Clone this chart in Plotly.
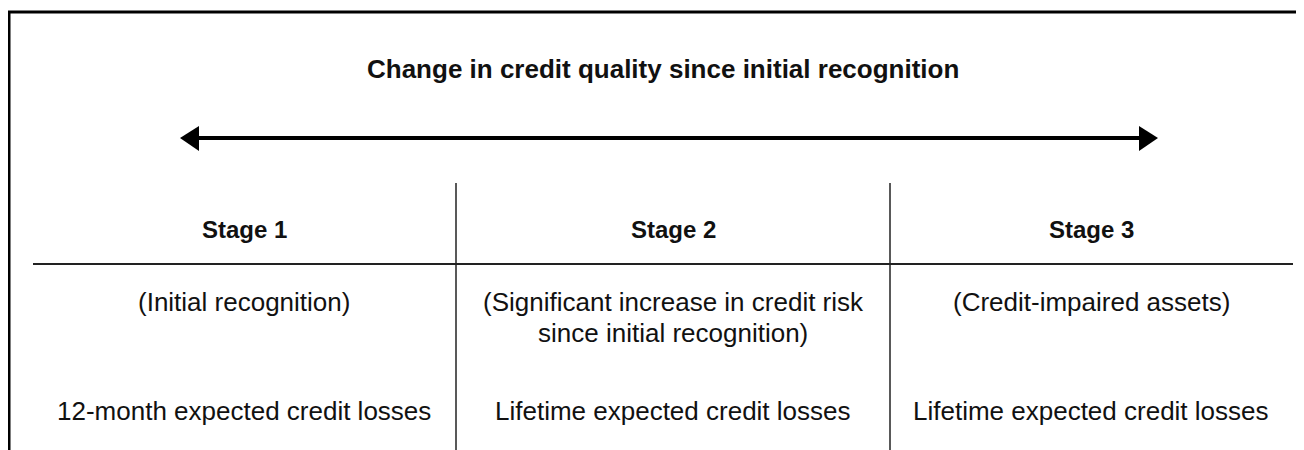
import plotly.graph_objects as go

title_text = "Change in credit quality since initial recognition"
stage_labels = ["Stage 1", "Stage 2", "Stage 3"]
stage_desc = [["(Initial recognition)"],
              ["(Significant increase in credit risk", "since initial recognition)"],
              ["(Credit-impaired assets)"]]
stage_loss = ["12-month expected credit losses",
              "Lifetime expected credit losses",
              "Lifetime expected credit losses"]

W, H = 1304, 450
OFF = 8  # page body margin
col_centers = [244, 673, 1091]
dividers = [456, 890]

FONT = "Liberation Sans, Arial, sans-serif"
TXT = "#111111"

fig = go.Figure()
fig.add_trace(go.Scatter(x=[OFF, W], y=[OFF, H], mode="markers",
                         marker=dict(opacity=0), hoverinfo="skip", showlegend=False))

shapes = []
# outer frame (left and top)
shapes.append(dict(type="line", x0=9, y0=12, x1=9, y1=H + 5, line=dict(color="black", width=3)))
shapes.append(dict(type="line", x0=8, y0=12, x1=W + 5, y1=12, line=dict(color="black", width=3)))
# arrow shaft
shapes.append(dict(type="line", x0=195, y0=138, x1=1142, y1=138, line=dict(color="black", width=4)))
# arrow heads
shapes.append(dict(type="path", path="M 180 138 L 199 126 L 199 151 Z",
                   fillcolor="black", line=dict(color="black", width=0)))
shapes.append(dict(type="path", path="M 1158 138 L 1139 126 L 1139 151 Z",
                   fillcolor="black", line=dict(color="black", width=0)))
# horizontal separator
shapes.append(dict(type="line", x0=33, y0=264, x1=1293, y1=264, line=dict(color="#222", width=2)))
# vertical dividers
for xd in dividers:
    shapes.append(dict(type="line", x0=xd, y0=183, x1=xd, y1=H + 5, line=dict(color="#222", width=1.5)))

annotations = []
annotations.append(dict(x=663, y=69, text="<b>" + title_text + "</b>", showarrow=False,
                        xanchor="center", yanchor="middle",
                        font=dict(family=FONT, size=26, color=TXT)))
for i, c in enumerate(col_centers):
    annotations.append(dict(x=c, y=229, text="<b>" + stage_labels[i] + "</b>", showarrow=False,
                            xanchor="center", yanchor="middle",
                            font=dict(family=FONT, size=24, color=TXT)))
    for j, line in enumerate(stage_desc[i]):
        annotations.append(dict(x=c, y=302 + 31 * j, text=line, showarrow=False,
                                xanchor="center", yanchor="middle",
                                font=dict(family=FONT, size=26, color=TXT)))
    annotations.append(dict(x=c, y=411, text=stage_loss[i], showarrow=False,
                            xanchor="center", yanchor="middle",
                            font=dict(family=FONT, size=26, color=TXT)))

fig.update_layout(
    width=W - OFF, height=H - OFF,
    margin=dict(l=0, r=0, t=0, b=0),
    paper_bgcolor="white", plot_bgcolor="white",
    xaxis=dict(range=[OFF, W], visible=False, fixedrange=True),
    yaxis=dict(range=[H, OFF], visible=False, fixedrange=True),
    shapes=shapes, annotations=annotations, showlegend=False,
)
fig.write_html("out.html", config={"displayModeBar": False})
